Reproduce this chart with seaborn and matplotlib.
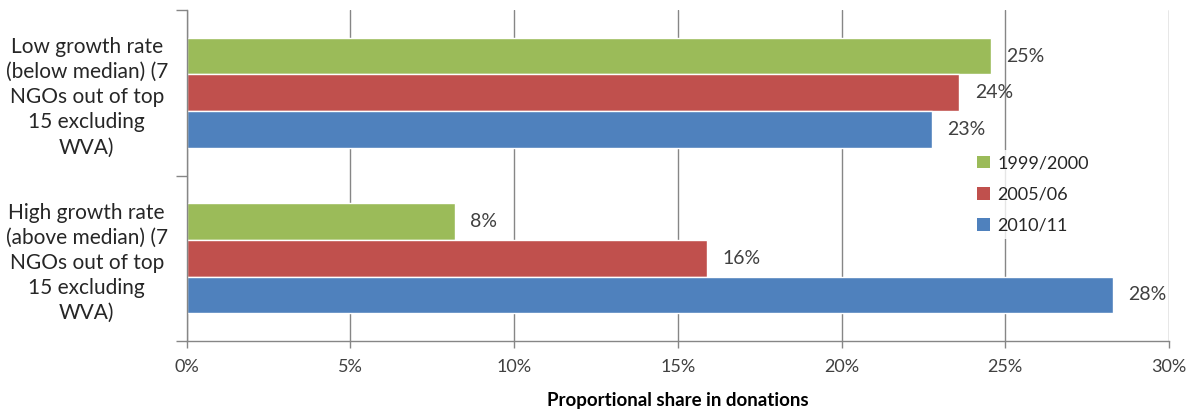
import matplotlib
matplotlib.use("Agg")
import matplotlib.pyplot as plt
from matplotlib.patches import Patch
import pandas as pd
import seaborn as sns

# Groups of NGOs by growth rate
categories = [
    "Low growth rate\n(below median) (7\nNGOs out of top\n15 excluding\nWVA)",
    "High growth rate\n(above median) (7\nNGOs out of top\n15 excluding\nWVA)",
]
periods = ["1999/2000", "2005/06", "2010/11"]
# Proportional share in donations (%), per period, for each group
share_1999 = [24.55, 8.2]
share_2005 = [23.6, 15.9]
share_2010 = [22.75, 28.3]
x_ticks = [0, 5, 10, 15, 20, 25, 30]
colors = ["#9BBB59", "#C0504D", "#4F81BD"]

rows = []
for period, vals in zip(periods, [share_1999, share_2005, share_2010]):
    for cat, v in zip(categories, vals):
        rows.append({"group": cat, "period": period, "share": v})
df = pd.DataFrame(rows)

sns.set_theme(style="white")
plt.rcParams["font.family"] = ["Lato", "DejaVu Sans"]
text_color = "#262626"
grid_color = "#868686"

W, H = 1192, 412
x0, x1, y0, y1 = 186.7, 1169, 10, 341
fig = plt.figure(figsize=(W / 100, H / 100), dpi=100)
ax = fig.add_axes([x0 / W, 1 - y1 / H, (x1 - x0) / W, (y1 - y0) / H])

sns.barplot(
    data=df, y="group", x="share", hue="period", orient="h",
    order=categories, hue_order=periods, palette=colors,
    width=0.665, saturation=1, errorbar=None, legend=False, ax=ax,
)

for cont in ax.containers:
    vals = [b.get_width() for b in cont]
    ax.bar_label(cont, labels=[f"{round(v + 1e-9):d}%" for v in vals], padding=11,
                 fontsize=14, color="#404040")

ax.set_xlim(0, 30)
ax.set_ylim(1.5, -0.5)
ax.set_xticks(x_ticks)
ax.set_xticklabels([f"{t}%" for t in x_ticks], fontsize=13, color="#404040")
ax.xaxis.grid(True, color=grid_color, linewidth=1)
ax.set_axisbelow(True)

ax.set_yticks(range(len(categories)))
ax.set_yticklabels(categories, ha="center", multialignment="center",
                   fontsize=15, color=text_color, linespacing=1.32)
ax.set_yticks([-0.5, 0.5, 1.5], minor=True)
ax.tick_params(axis="y", which="major", length=0, pad=72)
ax.tick_params(axis="y", which="minor", length=8, width=1, color=grid_color, direction="out", left=True)
ax.tick_params(axis="x", which="major", length=5, width=1, color=grid_color, direction="out",
               bottom=True, pad=8)

for side in ["top", "right"]:
    ax.spines[side].set_visible(False)
for side in ["left", "bottom"]:
    ax.spines[side].set_color(grid_color)
    ax.spines[side].set_linewidth(1)

ax.set_ylabel("")
ax.set_xlabel("Proportional share in donations", fontsize=13.5, fontweight="bold",
              color="black", labelpad=12)

handles = [Patch(facecolor=c, edgecolor="none") for c in colors]
leg = ax.legend(handles, periods, loc="upper left", bbox_to_anchor=(0.79, 0.605),
                frameon=True, fontsize=13, handlelength=0.7, handleheight=0.7,
                handletextpad=0.4, labelspacing=0.85, borderpad=0.3)
leg.get_frame().set_facecolor("white")
leg.get_frame().set_edgecolor("none")
leg.get_frame().set_boxstyle("square", pad=0)
for t in leg.get_texts():
    t.set_color(text_color)

fig.savefig("out.png", dpi=100, facecolor="white")
